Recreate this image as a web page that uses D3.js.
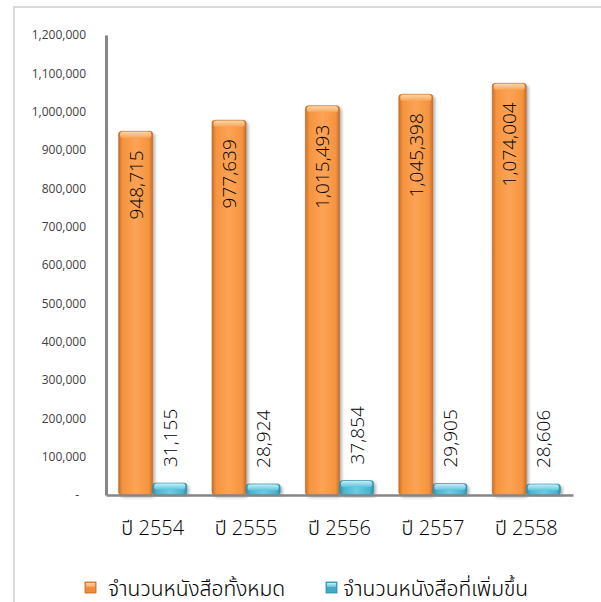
<!DOCTYPE html>
<html>
<head>
<meta charset="utf-8">
<script src="https://cdn.jsdelivr.net/npm/d3@7"></script>
<style>
  body { margin: 0; background: #fff; }
  svg { display: block; }
  text { font-family: "Open Sans", "Noto Sans", "Noto Sans Thai", sans-serif; font-weight: 300; }
</style>
</head>
<body>
<script>
// data
var years = ["ปี 2554", "ปี 2555", "ปี 2556", "ปี 2557", "ปี 2558"];
var totalBooks = [948715, 977639, 1015493, 1045398, 1074004];
var addedBooks = [31155, 28924, 37854, 29905, 28606];
var seriesNames = ["จำนวนหนังสือทั้งหมด", "จำนวนหนังสือที่เพิ่มขึ้น"];
var yTicks = [0, 100000, 200000, 300000, 400000, 500000, 600000, 700000, 800000, 900000, 1000000, 1100000, 1200000];

var W = 601, H = 602;

var svg = d3.select("body").append("svg")
  .attr("width", W)
  .attr("height", H);

// outer chart frame (goes past the right and bottom edges)
svg.append("rect")
  .attr("x", 14).attr("y", 7)
  .attr("width", 640).attr("height", 640)
  .attr("fill", "none")
  .attr("stroke", "#d9d9d9")
  .attr("stroke-width", 2);

var defs = svg.append("defs");

// horizontal gradients to give the round, cylinder look
function barGradient(id, dark, mid, light) {
  var g = defs.append("linearGradient").attr("id", id)
    .attr("x1", "0%").attr("x2", "100%").attr("y1", "0%").attr("y2", "0%");
  g.append("stop").attr("offset", "0%").attr("stop-color", dark);
  g.append("stop").attr("offset", "12%").attr("stop-color", mid);
  g.append("stop").attr("offset", "50%").attr("stop-color", light);
  g.append("stop").attr("offset", "88%").attr("stop-color", mid);
  g.append("stop").attr("offset", "100%").attr("stop-color", dark);
}
barGradient("gOrange", "#c8702c", "#f6943f", "#fca356");
barGradient("gCyan", "#2f8fa8", "#4bb3cf", "#6ccbe2");

function capGradient(id, top, bottom) {
  var g = defs.append("linearGradient").attr("id", id)
    .attr("x1", "0%").attr("x2", "0%").attr("y1", "0%").attr("y2", "100%");
  g.append("stop").attr("offset", "0%").attr("stop-color", top);
  g.append("stop").attr("offset", "100%").attr("stop-color", bottom);
}
capGradient("cOrange", "#fdd6a8", "#f9a458");
capGradient("cCyan", "#c4eef8", "#5fc3dc");

var shadow = defs.append("filter").attr("id", "shadow")
  .attr("x", "-20%").attr("y", "-5%").attr("width", "150%").attr("height", "120%");
shadow.append("feDropShadow")
  .attr("dx", 2).attr("dy", 2).attr("stdDeviation", 1.5)
  .attr("flood-color", "#000").attr("flood-opacity", 0.3);

// scales
var y = d3.scaleLinear().domain([0, 1200000]).range([495, 35]);
var x0 = d3.scaleBand().domain(years).range([106, 573]).padding(0);
var x1 = d3.scaleBand().domain([0, 1]).range([0, x0.bandwidth()]).paddingInner(0).paddingOuter(0.37);

// y axis
var yAxis = svg.append("g")
  .attr("transform", "translate(106,0)")
  .call(d3.axisLeft(y).tickValues(yTicks).tickSize(0).tickPadding(20)
    .tickFormat(function(d) { return d === 0 ? "-" : d3.format(",")(d); }));
yAxis.select(".domain").attr("stroke", "#868686").attr("stroke-width", 3);
yAxis.selectAll("text")
  .attr("fill", "#404040")
  .style("font-size", "12px")
  .style("font-weight", "400");
yAxis.selectAll(".tick text")
  .filter(function(d) { return d === 0; })
  .attr("x", -27);

var series = [
  { values: totalBooks, fill: "url(#gOrange)", cap: "url(#cOrange)", stroke: "#b9662a" },
  { values: addedBooks, fill: "url(#gCyan)", cap: "url(#cCyan)", stroke: "#2e8aa3" }
];

var groups = svg.selectAll("g.year")
  .data(years)
  .enter().append("g")
  .attr("class", "year")
  .attr("transform", function(d) { return "translate(" + x0(d) + ",0)"; });

series.forEach(function(s, si) {
  groups.append("rect")
    .attr("x", x1(si))
    .attr("y", function(d, i) { return y(s.values[i]); })
    .attr("width", x1.bandwidth())
    .attr("height", function(d, i) { return y(0) - y(s.values[i]); })
    .attr("rx", 3)
    .attr("fill", s.fill)
    .attr("stroke", s.stroke)
    .attr("stroke-width", 0.6)
    .attr("filter", "url(#shadow)");
  // bevelled top
  groups.append("rect")
    .attr("x", x1(si) + 1.5)
    .attr("y", function(d, i) { return y(s.values[i]) + 0.5; })
    .attr("width", x1.bandwidth() - 3)
    .attr("height", 6)
    .attr("rx", 2.5)
    .attr("fill", s.cap);
});

// value labels, rotated
groups.append("text")
  .attr("transform", function(d, i) {
    var cx = x1(0) + x1.bandwidth() / 2 + 7;
    return "translate(" + cx + "," + (y(totalBooks[i]) + 19) + ") rotate(-90)";
  })
  .attr("text-anchor", "end")
  .attr("fill", "#000")
  .style("font-size", "19px")
  .text(function(d, i) { return d3.format(",")(totalBooks[i]); });

groups.append("text")
  .attr("transform", function(d, i) {
    var cx = x1(1) + x1.bandwidth() / 2 + 7;
    return "translate(" + cx + "," + (y(addedBooks[i]) - 16) + ") rotate(-90)";
  })
  .attr("text-anchor", "start")
  .attr("fill", "#000")
  .style("font-size", "19px")
  .text(function(d, i) { return d3.format(",")(addedBooks[i]); });

// x axis
var xAxis = svg.append("g")
  .attr("transform", "translate(0,495)")
  .call(d3.axisBottom(x0).tickSize(0).tickPadding(26).tickSizeOuter(0));
xAxis.select(".domain").attr("stroke", "#868686").attr("stroke-width", 2.5);
xAxis.selectAll("text")
  .attr("fill", "#000")
  .style("font-size", "20px");

// legend
var legendX = [85, 326];
var legendTextX = [23, 17];
var legendCaps = ["url(#cOrange)", "url(#cCyan)"];
var legendFill = ["#f08c3a", "#44a9c4"];
var legend = svg.selectAll("g.legend")
  .data(seriesNames)
  .enter().append("g")
  .attr("class", "legend")
  .attr("transform", function(d, i) { return "translate(" + legendX[i] + ",582)"; });
legend.append("rect")
  .attr("width", 11).attr("height", 11)
  .attr("fill", function(d, i) { return legendFill[i]; })
  .attr("stroke", function(d, i) { return series[i].stroke; })
  .attr("stroke-width", 0.8);
legend.append("rect")
  .attr("x", 1).attr("y", 1)
  .attr("width", 9).attr("height", 4)
  .attr("fill", function(d, i) { return legendCaps[i]; });
legend.append("text")
  .attr("x", function(d, i) { return legendTextX[i]; })
  .attr("y", 14)
  .attr("fill", "#000")
  .style("font-size", "21px")
  .text(function(d) { return d; });
</script>
</body>
</html>
